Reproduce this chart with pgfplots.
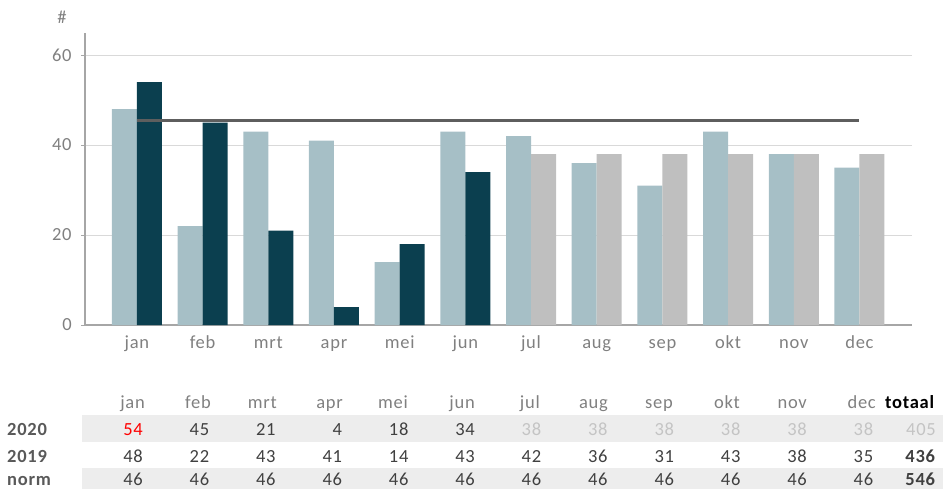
\documentclass[border=0pt]{standalone}
\usepackage{pgfplots}
\pgfplotsset{compat=1.18}
\usepackage{fontspec}
\setmainfont{Carlito}[LetterSpace=4]
\definecolor{c19}{HTML}{A6BFC6}
\definecolor{c20}{HTML}{0B3F4F}
\definecolor{cfc}{HTML}{BFBFBF}
\definecolor{cline}{HTML}{5E5E5E}
\definecolor{cgrid}{HTML}{D9D9D9}
\definecolor{caxis}{HTML}{A6A6A6}
\definecolor{clab}{HTML}{808080}
\definecolor{ctxt}{HTML}{404040}
\definecolor{crow}{HTML}{595959}
\definecolor{cband}{HTML}{EDEDED}
\definecolor{clight}{HTML}{C4C4C4}
\newcommand{\tabfont}{\fontsize{18.5bp}{21bp}\selectfont}
\begin{document}
\tabfont
\begin{tikzpicture}
\useasboundingbox (-85bp,-164bp) rectangle (858bp,325bp);
\fill[cband] (-3bp,-90bp) rectangle (858bp,-117bp);
\fill[cband] (-3bp,-143bp) rectangle (858bp,-164bp);
\begin{axis}[
  at={(0,0)}, anchor=south west,
  scale only axis, width=827bp, height=292.5bp,
  xmin=-0.79, xmax=11.8, ymin=0, ymax=65,
  xtick={0,...,11},
  xticklabels={jan,feb,mrt,apr,mei,jun,jul,aug,sep,okt,nov,dec},
  ytick={0,20,40,60},
  axis x line*=bottom, axis y line*=left,
  axis line style={caxis, line width=1.2bp, -},
  every outer x axis line/.append style={-},
  every outer y axis line/.append style={-},
  ymajorgrids, grid style={cgrid, line width=1bp},
  tick align=outside, major tick length=4bp,
  xtick style={draw=none}, ytick style={caxis, line width=1bp},
  tick label style={font=\tabfont, text=clab},
  yticklabel style={xshift=-3bp},
  xticklabel style={text height=12bp, text depth=4bp, yshift=-1bp},
  /pgf/number format/assume math mode=true,
  clip=false,
]
\addplot[ybar, fill=c19, draw=none, bar width=25bp, bar shift=-12.5bp] coordinates {
 (0,48) (1,22) (2,43) (3,41) (4,14) (5,43) (6,42) (7,36) (8,31) (9,43) (10,38) (11,35)};
\addplot[ybar, fill=c20, draw=none, bar width=25bp, bar shift=12.5bp] coordinates {
 (0,54) (1,45) (2,21) (3,4) (4,18) (5,34)};
\addplot[ybar, fill=cfc, draw=none, bar width=25bp, bar shift=12.5bp] coordinates {
 (6,38) (7,38) (8,38) (9,38) (10,38) (11,38)};
\addplot[sharp plot, no marks, cline, line width=3.5bp] coordinates {(0,45.5) (11,45.5)};
\end{axis}
\node[clab] at (-23bp,308bp) {\#};
% header
\foreach \m/\x in {jan/60,feb/126,mrt/192,apr/258,mei/323,jun/390,jul/455,aug/523,sep/588,okt/655,nov/722,dec/791}
  \node[anchor=base east, clab, inner sep=0pt] at (\x bp,-83bp) {\m};
\node[anchor=base east, inner sep=0pt] at (850bp,-83bp) {\textbf{totaal}};
% row labels
\foreach \r/\y in {2020/-110,2019/-137,norm/-160}
  \node[anchor=base west, crow, inner sep=0pt] at (-78bp,\y bp) {\textbf{\r}};
% 2020
\foreach \v/\c [count=\i from 0] in {54/red,45/ctxt,21/ctxt,4/ctxt,18/ctxt,34/ctxt,38/clight,38/clight,38/clight,38/clight,38/clight,38/clight}
  \node[anchor=base east, text=\c, inner sep=0pt] at ({58bp+66.4bp*\i},-110bp) {\v};
\node[anchor=base east, clight, inner sep=0pt] at (851bp,-110bp) {405};
% 2019
\foreach \v [count=\i from 0] in {48,22,43,41,14,43,42,36,31,43,38,35}
  \node[anchor=base east, ctxt, inner sep=0pt] at ({58bp+66.4bp*\i},-137bp) {\v};
\node[anchor=base east, ctxt, inner sep=0pt] at (851bp,-137bp) {\textbf{436}};
% norm
\foreach \v [count=\i from 0] in {46,46,46,46,46,46,46,46,46,46,46,46}
  \node[anchor=base east, ctxt, inner sep=0pt] at ({58bp+66.4bp*\i},-160bp) {\v};
\node[anchor=base east, ctxt, inner sep=0pt] at (851bp,-160bp) {\textbf{546}};
\end{tikzpicture}
\end{document}
